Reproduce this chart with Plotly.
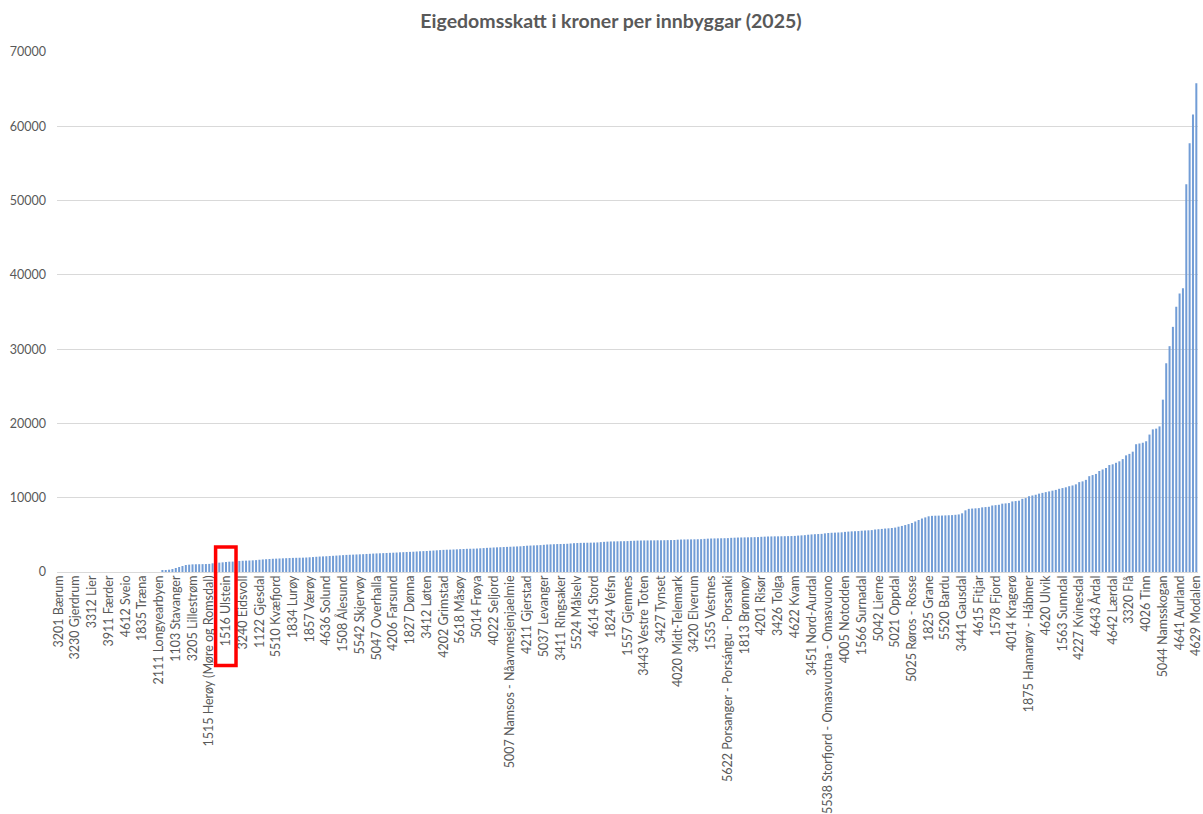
import plotly.graph_objects as go

# Eigedomsskatt per innbyggar, sorted ascending (341 kommunar)
values = [
    0, 0, 0, 0, 0, 0, 0, 0, 0, 0,
    0, 0, 0, 0, 0, 0, 0, 0, 0, 0,
    0, 0, 0, 0, 0, 0, 0, 0, 0, 0,
    0, 180, 230, 310, 400, 540, 670, 810, 940, 990,
    1030, 1040, 1050, 1060, 1070, 1090, 1170, 1210, 1260, 1300,
    1350, 1390, 1400, 1460, 1490, 1510, 1530, 1550, 1570, 1600,
    1650, 1690, 1720, 1750, 1780, 1800, 1820, 1840, 1860, 1880,
    1900, 1910, 1920, 1930, 1950, 1980, 2010, 2050, 2080, 2100,
    2120, 2150, 2180, 2210, 2240, 2270, 2300, 2320, 2340, 2360,
    2380, 2400, 2430, 2450, 2480, 2500, 2520, 2540, 2560, 2580,
    2600, 2620, 2650, 2670, 2690, 2710, 2730, 2760, 2790, 2810,
    2830, 2860, 2890, 2920, 2950, 2980, 3000, 3010, 3030, 3050,
    3080, 3100, 3120, 3130, 3140, 3160, 3190, 3220, 3250, 3270,
    3300, 3320, 3340, 3360, 3380, 3400, 3420, 3440, 3460, 3500,
    3540, 3560, 3580, 3600, 3620, 3660, 3700, 3720, 3740, 3760,
    3770, 3780, 3800, 3840, 3880, 3900, 3920, 3930, 3940, 3950,
    3960, 3980, 4020, 4060, 4090, 4110, 4120, 4130, 4140, 4150,
    4160, 4190, 4210, 4230, 4240, 4250, 4250, 4260, 4260, 4270,
    4270, 4280, 4290, 4300, 4310, 4350, 4370, 4380, 4390, 4390,
    4400, 4410, 4420, 4460, 4490, 4510, 4520, 4530, 4540, 4550,
    4560, 4600, 4620, 4640, 4650, 4660, 4670, 4680, 4690, 4700,
    4740, 4760, 4780, 4790, 4800, 4800, 4810, 4820, 4830, 4840,
    4860, 4900, 4930, 4960, 5020, 5060, 5090, 5110, 5130, 5200,
    5250, 5280, 5300, 5320, 5340, 5400, 5440, 5470, 5490, 5510,
    5560, 5590, 5610, 5640, 5720, 5760, 5800, 5850, 5880, 5920,
    5980, 6100, 6200, 6320, 6450, 6600, 6800, 7000, 7200, 7350,
    7500, 7560, 7580, 7590, 7600, 7620, 7640, 7660, 7700, 7750,
    7900, 8300, 8500, 8540, 8570, 8600, 8700, 8740, 8780, 8950,
    9000, 9050, 9200, 9240, 9280, 9500, 9550, 9600, 9850, 9950,
    10200, 10300, 10400, 10550, 10650, 10750, 10850, 10950, 11050, 11200,
    11300, 11400, 11550, 11650, 11800, 12100, 12200, 12400, 12900, 13050,
    13200, 13600, 13800, 14000, 14400, 14500, 14700, 14900, 15200, 15700,
    15900, 16200, 17200, 17300, 17400, 17600, 18500, 19200, 19300, 19600,
    23200, 28100, 30400, 33000, 35700, 37500, 38200, 52200, 57700, 61600,
    65800,
]

# Every 5th kommune is labelled on the axis
tick_labels = [
    "3201 Bærum", "3230 Gjerdrum", "3312 Lier", "3911 Færder", "4612 Sveio",
    "1835 Træna", "2111 Longyearbyen", "1103 Stavanger", "3205 Lillestrøm",
    "1515 Herøy (Møre og Romsdal)", "1516 Ulstein", "3240 Eidsvoll", "1122 Gjesdal",
    "5510 Kvæfjord", "1834 Lurøy", "1857 Værøy", "4636 Solund", "1508 Ålesund",
    "5542 Skjervøy", "5047 Overhalla", "4206 Farsund", "1827 Dønna", "3412 Løten",
    "4202 Grimstad", "5618 Måsøy", "5014 Frøya", "4022 Seljord",
    "5007 Namsos - Nåavmesjenjaelmie", "4211 Gjerstad", "5037 Levanger",
    "3411 Ringsaker", "5524 Målselv", "4614 Stord", "1824 Vefsn", "1557 Gjemnes",
    "3443 Vestre Toten", "3427 Tynset", "4020 Midt-Telemark", "3420 Elverum",
    "1535 Vestnes", "5622 Porsanger - Porsángu - Porsanki", "1813 Brønnøy",
    "4201 Risør", "3426 Tolga", "4622 Kvam", "3451 Nord-Aurdal",
    "5538 Storfjord - Omasvuotna - Omasvuono", "4005 Notodden", "1566 Surnadal",
    "5042 Lierne", "5021 Oppdal", "5025 Røros - Rosse", "1825 Grane", "5520 Bardu",
    "3441 Gausdal", "4615 Fitjar", "1578 Fjord", "4014 Kragerø",
    "1875 Hamarøy - Hábmer", "4620 Ulvik", "1563 Sunndal", "4227 Kvinesdal",
    "4643 Årdal", "4642 Lærdal", "3320 Flå", "4026 Tinn", "5044 Namsskogan",
    "4641 Aurland", "4629 Modalen",
]
label_step = 5
highlight = "1516 Ulstein"

y_ticks = [0, 10000, 20000, 30000, 40000, 50000, 60000, 70000]

positions = list(range(len(values)))
tick_positions = positions[::label_step]

fig = go.Figure(
    go.Bar(
        x=positions,
        y=values,
        marker=dict(color="#729dd6", line=dict(width=0)),
        hovertemplate="%{y}<extra></extra>",
    )
)

GRAY = "#595959"
FONT = "Lato, 'Open Sans', sans-serif"

fig.update_layout(
    width=1203,
    height=814,
    paper_bgcolor="white",
    plot_bgcolor="white",
    margin=dict(l=57, r=0, t=52, b=242),
    bargap=0.4,
    showlegend=False,
    font=dict(family=FONT, color=GRAY, size=12),
    title=dict(
        text="<b>Eigedomsskatt i kroner per innbyggar (2025)</b>",
        x=611 / 1203,
        xref="container",
        xanchor="center",
        y=1 - 21 / 814,
        yref="container",
        yanchor="middle",
        font=dict(family=FONT, size=19.5, color=GRAY),
    ),
)

fig.update_xaxes(
    range=[-0.5, len(values) - 0.5],
    tickmode="array",
    tickvals=tick_positions,
    ticktext=tick_labels,
    tickangle=-90,
    tickfont=dict(family=FONT, size=12.5, color=GRAY),
    ticklabeloverflow="allow",
    showgrid=False,
    showline=False,
    zeroline=False,
    ticks="",
)

fig.update_yaxes(
    range=[0, 70000],
    tickmode="array",
    tickvals=y_ticks,
    ticktext=[str(v) for v in y_ticks],
    showgrid=True,
    gridcolor="#d9d9d9",
    gridwidth=1,
    zeroline=True,
    zerolinecolor="#d9d9d9",
    zerolinewidth=1,
    showline=False,
    ticks="",
    ticklabelstandoff=10,
    tickfont=dict(family=FONT, size=12.5, color=GRAY),
)

# Red box round the highlighted label
idx = positions[tick_labels.index(highlight) * label_step]
n = len(values)
fig.add_shape(
    type="rect",
    xref="paper",
    yref="paper",
    x0=(idx - 3.1 + 0.5) / n,
    x1=(idx + 3.0 + 0.5) / n,
    y0=-0.18,
    y1=0.048,
    line=dict(color="#ff0000", width=3.5),
    fillcolor="rgba(0,0,0,0)",
    layer="above",
)

fig.write_html(
    "out.html",
    config={"displayModeBar": False},
    post_script="document.body.style.margin='0';document.body.style.overflow='hidden';",
)
